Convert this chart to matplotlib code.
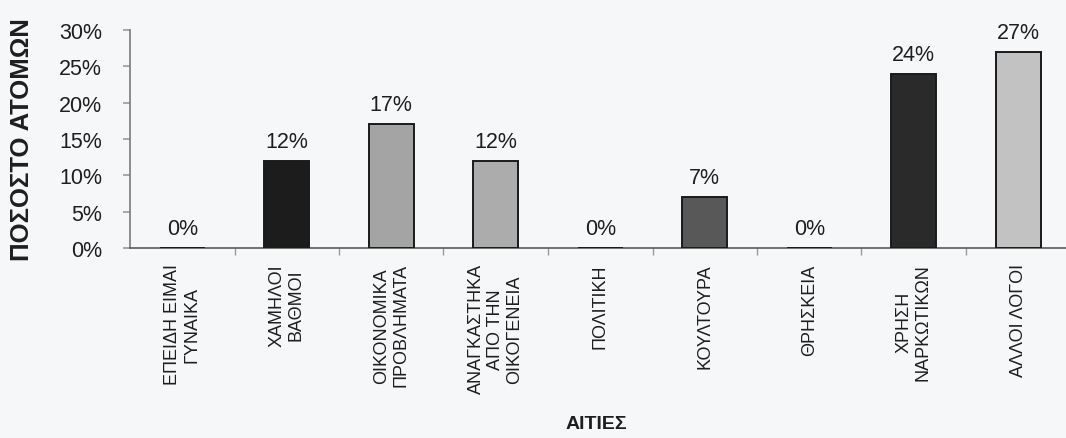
import matplotlib.pyplot as plt
from matplotlib.ticker import FixedLocator

# Reasons and share of people per reason (%)
reasons = ['ΕΠΕΙΔΗ ΕΙΜΑΙ\nΓΥΝΑΙΚΑ', 'ΧΑΜΗΛΟΙ\nΒΑΘΜΟΙ', 'ΟΙΚΟΝΟΜΙΚΑ\nΠΡΟΒΛΗΜΑΤΑ',
           'ΑΝΑΓΚΑΣΤΗΚΑ\nΑΠΟ ΤΗΝ\nΟΙΚΟΓΕΝΕΙΑ', 'ΠΟΛΙΤΙΚΗ', 'ΚΟΥΛΤΟΥΡΑ',
           'ΘΡΗΣΚΕΙΑ', 'ΧΡΗΣΗ\nΝΑΡΚΩΤΙΚΩΝ', 'ΑΛΛΟΙ ΛΟΓΟΙ']
percent = [0, 12, 17, 12, 0, 7, 0, 24, 27]
y_ticks = [0, 5, 10, 15, 20, 25, 30]

bar_colors = ['#222222', '#1c1c1c', '#a4a4a4', '#acacac', '#808080',
              '#585858', '#808080', '#2a2a2a', '#c2c2c2']

plt.rcParams['font.family'] = ['Liberation Sans', 'DejaVu Sans']

fig = plt.figure(figsize=(10.66, 4.39), dpi=100)
fig.patch.set_facecolor('#f5f7f9')
ax = fig.add_axes([130 / 1066, 1 - 249 / 439, 1 - 130 / 1066, 218 / 439])
ax.set_facecolor('#f5f7f9')

x = list(range(len(percent)))
ax.bar(x, percent, width=0.43, color=bar_colors, edgecolor='#1a1a1a',
       linewidth=1.4, zorder=3)

for xi, v in zip(x, percent):
    ax.annotate(f'{v}%', (xi, v), xytext=(0, 9), textcoords='offset pixels',
                ha='center', va='bottom', fontsize=15.5, color='#1e1e1e',
                annotation_clip=False)

ax.set_xlim(-0.5, -0.5 + 936 / 104.5)
ax.set_ylim(0, 30)

for side in ['top', 'right']:
    ax.spines[side].set_visible(False)
ax.spines['left'].set_color('#7a7a7a')
ax.spines['left'].set_linewidth(1.2)
ax.spines['bottom'].set_color('#5a5a5a')
ax.spines['bottom'].set_linewidth(1.2)

ax.set_yticks(y_ticks)
ax.set_yticklabels([f'{t}%' for t in y_ticks], fontsize=15.5, color='#1e1e1e')
ax.tick_params(axis='y', length=5, width=1.2, color='#9a9a9a', pad=15)

ax.set_xticks(x)
ax.set_xticklabels(reasons, rotation=90, fontsize=13, color='#1e1e1e',
                   linespacing=1.15, multialignment='center')
ax.tick_params(axis='x', which='major', length=0, pad=11)
ax.xaxis.set_minor_locator(FixedLocator([i + 0.5 for i in x[:-1]]))
ax.tick_params(axis='x', which='minor', length=5, width=1, color='#9a9a9a')

fig.text(22 / 1066, 1 - 140 / 439, 'ΠΟΣΟΣΤΟ ΑΤΟΜΩΝ', rotation=90, ha='center',
         va='center', fontsize=18.5, fontweight='bold', color='#1e1e1e')
fig.text(596 / 1066, 1 - 425 / 439, 'ΑΙΤΙΕΣ', ha='center', va='center',
         fontsize=14, fontweight='bold', color='#1e1e1e')

fig.savefig('out.png', dpi=100, facecolor=fig.get_facecolor())
